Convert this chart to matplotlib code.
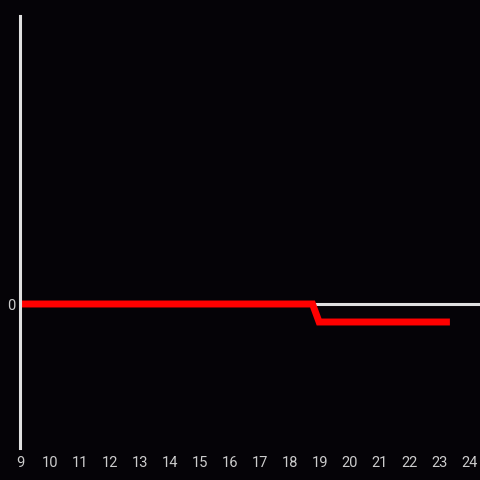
import matplotlib.pyplot as plt

# data
hours = [9, 18.75, 18.97, 23.33]
values = [0, 0, -1, -1]
xticks = list(range(9, 25))

bg = '#050307'
axis_col = '#e0e0e0'
label_col = '#cccccc'

fig = plt.figure(figsize=(4.8, 4.8), dpi=100, facecolor=bg)
ax = fig.add_axes([20/480, 32/480, 460/480, 432/480], facecolor=bg)

ax.axhline(0, color=axis_col, lw=2.2, zorder=1)
ax.plot(hours, values, color='#ff0000', lw=5, solid_capstyle='butt',
        solid_joinstyle='miter', zorder=2)

ax.set_xlim(9, 9 + 460/30)
ax.set_ylim(-8, 16)

for s in ['top', 'right', 'bottom']:
    ax.spines[s].set_visible(False)
ax.spines['left'].set_color(axis_col)
ax.spines['left'].set_linewidth(2.2)

ax.set_xticks(xticks)
ax.set_xticklabels([str(t) for t in xticks])
ax.set_yticks([0])
ax.set_yticklabels(['0'])
ax.tick_params(axis='x', length=0, pad=5.5, colors=label_col, labelsize=10.5)
ax.tick_params(axis='y', length=0, pad=3, colors=label_col, labelsize=10.5)
for lbl in ax.get_xticklabels() + ax.get_yticklabels():
    lbl.set_fontfamily('Roboto')

fig.savefig('out.png', dpi=100, facecolor=bg)
